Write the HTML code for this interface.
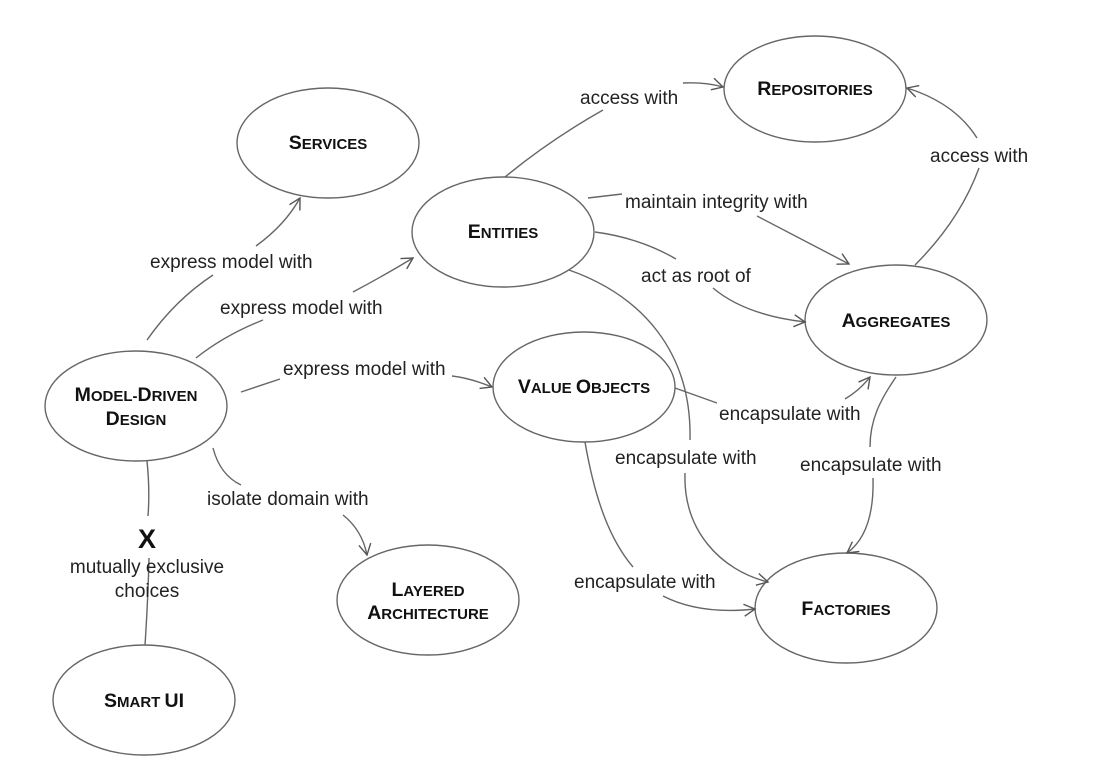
<!DOCTYPE html>
<html><head><meta charset="utf-8"><style>
html,body{margin:0;padding:0;background:#fff;}
svg{display:block;}
.l{font-family:"Liberation Sans",Arial,sans-serif;font-size:19px;fill:#222;}
.n{font-family:"Liberation Sans",Arial,sans-serif;font-weight:bold;fill:#111;text-anchor:middle;}
.n .s{font-size:15px;}
.n .b{font-size:19.5px;}
path.e{fill:none;stroke:#666;stroke-width:1.4;}
ellipse{fill:#fff;stroke:#666;stroke-width:1.4;}
</style></head><body>
<svg width="1094" height="767" viewBox="0 0 1094 767" xmlns="http://www.w3.org/2000/svg">
<defs>
<marker id="a" markerWidth="14" markerHeight="14" refX="12" refY="7" orient="auto" markerUnits="userSpaceOnUse">
<path d="M1,1 L12,7 L1,13" fill="none" stroke="#555" stroke-width="1.4"/>
</marker>
</defs>

<ellipse cx="815" cy="89" rx="91" ry="53"/>
<ellipse cx="328" cy="143" rx="91" ry="55"/>
<ellipse cx="503" cy="232" rx="91" ry="55"/>
<ellipse cx="896" cy="320" rx="91" ry="55"/>
<ellipse cx="136" cy="406" rx="91" ry="55"/>
<ellipse cx="584" cy="387" rx="91" ry="55"/>
<ellipse cx="428" cy="600" rx="91" ry="55"/>
<ellipse cx="846" cy="608" rx="91" ry="55"/>
<ellipse cx="144" cy="700" rx="91" ry="55"/>

<path class="e" d="M147,340 Q175,300 213,275"/>
<path class="e" d="M256,246 Q285,225 300,198" marker-end="url(#a)"/>
<path class="e" d="M196,358 Q225,335 263,320"/>
<path class="e" d="M353,292 Q385,275 413,258" marker-end="url(#a)"/>
<path class="e" d="M241,392 L280,379"/>
<path class="e" d="M452,376 Q470,378 492,387" marker-end="url(#a)"/>
<path class="e" d="M213,448 Q220,475 241,485"/>
<path class="e" d="M343,515 Q362,530 367,555" marker-end="url(#a)"/>
<path class="e" d="M147,461 Q150,490 148,516"/>
<path class="e" d="M149,558 Q148,600 145,645"/>
<path class="e" d="M505,177 Q550,140 603,110"/>
<path class="e" d="M683,83 Q705,82 723,87" marker-end="url(#a)"/>
<path class="e" d="M588,198 L622,194"/>
<path class="e" d="M757,216 L849,264" marker-end="url(#a)"/>
<path class="e" d="M595,232 Q640,238 676,259"/>
<path class="e" d="M713,288 Q745,315 805,322" marker-end="url(#a)"/>
<path class="e" d="M569,270 C640,295 692,350 690,440"/>
<path class="e" d="M685,473 C683,530 720,570 768,582" marker-end="url(#a)"/>
<path class="e" d="M675,388 L717,403"/>
<path class="e" d="M845,399 Q860,390 870,377" marker-end="url(#a)"/>
<path class="e" d="M896,377 C880,400 870,420 870,447"/>
<path class="e" d="M873,478 C874,515 865,540 847,553" marker-end="url(#a)"/>
<path class="e" d="M585,442 C595,500 610,540 633,567"/>
<path class="e" d="M663,596 Q700,615 755,609" marker-end="url(#a)"/>
<path class="e" d="M915,265 Q960,220 979,168"/>
<path class="e" d="M977,138 Q955,103 907,88" marker-end="url(#a)"/>

<text class="l" x="150" y="268">express model with</text>
<text class="l" x="220" y="314">express model with</text>
<text class="l" x="283" y="375">express model with</text>
<text class="l" x="207" y="505">isolate domain with</text>
<text class="l" x="580" y="104">access with</text>
<text class="l" x="625" y="208">maintain integrity with</text>
<text class="l" x="641" y="282">act as root of</text>
<text class="l" x="930" y="162">access with</text>
<text class="l" x="719" y="420">encapsulate with</text>
<text class="l" x="615" y="464">encapsulate with</text>
<text class="l" x="800" y="471">encapsulate with</text>
<text class="l" x="574" y="588">encapsulate with</text>
<text class="l" x="147" y="573" text-anchor="middle">mutually exclusive</text>
<text class="l" x="147" y="597" text-anchor="middle">choices</text>
<text x="147" y="548" text-anchor="middle" style="font-family:'Liberation Sans',Arial,sans-serif;font-weight:bold;font-size:27px;fill:#111">X</text>

<text class="n" x="815" y="95"><tspan class="b">R</tspan><tspan class="s">EPOSITORIES</tspan></text>
<text class="n" x="328" y="149"><tspan class="b">S</tspan><tspan class="s">ERVICES</tspan></text>
<text class="n" x="503" y="238"><tspan class="b">E</tspan><tspan class="s">NTITIES</tspan></text>
<text class="n" x="896" y="327"><tspan class="b">A</tspan><tspan class="s">GGREGATES</tspan></text>
<text class="n" x="136" y="401"><tspan class="b">M</tspan><tspan class="s">ODEL-</tspan><tspan class="b">D</tspan><tspan class="s">RIVEN</tspan></text>
<text class="n" x="136" y="425"><tspan class="b">D</tspan><tspan class="s">ESIGN</tspan></text>
<text class="n" x="584" y="393"><tspan class="b">V</tspan><tspan class="s">ALUE </tspan><tspan class="b">O</tspan><tspan class="s">BJECTS</tspan></text>
<text class="n" x="428" y="596"><tspan class="b">L</tspan><tspan class="s">AYERED</tspan></text>
<text class="n" x="428" y="619"><tspan class="b">A</tspan><tspan class="s">RCHITECTURE</tspan></text>
<text class="n" x="846" y="615"><tspan class="b">F</tspan><tspan class="s">ACTORIES</tspan></text>
<text class="n" x="144" y="707"><tspan class="b">S</tspan><tspan class="s">MART </tspan><tspan class="b">UI</tspan></text>
</svg>
</body></html>
